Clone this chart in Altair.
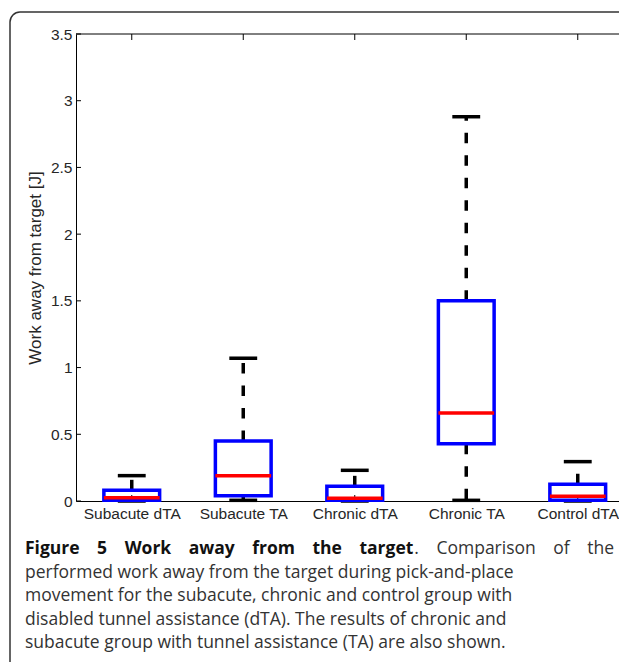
import altair as alt
import pandas as pd

# ---- data ----
groups = ["Subacute dTA", "Subacute TA", "Chronic dTA", "Chronic TA", "Control dTA"]
positions = [1, 2, 3, 4, 5]
whisker_low = [0.0, 0.005, 0.0, 0.005, 0.0]
q1 = [0.005, 0.04, 0.005, 0.43, 0.005]
median = [0.025, 0.19, 0.02, 0.66, 0.035]
q3 = [0.08, 0.45, 0.11, 1.50, 0.125]
whisker_high = [0.19, 1.07, 0.23, 2.88, 0.295]
y_ticks = [0, 0.5, 1, 1.5, 2, 2.5, 3, 3.5]

y_title = "Work away from target [J]"
caption_bold = "Figure\u20035\u2003Work\u2003away\u2003from\u2003the\u2003target"
caption_first_rest = ".\u2003Comparison\u2003of\u2003the"
caption_lines = [
    "performed work away from the target during pick-and-place",
    "movement for the subacute, chronic and control group with",
    "disabled tunnel assistance (dTA). The results of chronic and",
    "subacute group with tunnel assistance (TA) are also shown.",
]

# ---- layout / style ----
BOX_HALF = 0.25
CAP_HALF = 0.125
W, H = 543, 467
X_DOMAIN = [0.5, 0.5 + W / 111.5]
AX_FONT = "Liberation Sans"
AX_SIZE = 15.5
CAP_FONT = "Open Sans"
CAP_SIZE = 17.5

df = pd.DataFrame({
    "group": groups, "pos": positions, "lo": whisker_low, "q1": q1,
    "med": median, "q3": q3, "hi": whisker_high,
})
df["xl"] = df["pos"] - BOX_HALF
df["xr"] = df["pos"] + BOX_HALF
df["cl"] = df["pos"] - CAP_HALF
df["cr"] = df["pos"] + CAP_HALF

xscale = alt.Scale(domain=X_DOMAIN, nice=False, zero=False)
yscale = alt.Scale(domain=[0, 3.5], nice=False, zero=False)

label_expr = "[" + ",".join("'" + g + "'" for g in groups) + "][datum.value - 1]"

x_axis = alt.Axis(values=positions, labelExpr=label_expr, tickSize=0,
                  labelPadding=5, labelFont=AX_FONT, labelFontSize=AX_SIZE,
                  labelColor="#262626", labelFlush=False, labelOverlap=False,
                  domainColor="black", domainWidth=1, grid=False, title=None)
y_axis = alt.Axis(values=y_ticks, format="~g", tickSize=0, labelPadding=4,
                  labelFont=AX_FONT, labelFontSize=AX_SIZE, labelColor="#262626",
                  labelFlush=False, domainColor="black", domainWidth=1,
                  grid=False, title=y_title, titleFont=AX_FONT,
                  titleFontSize=17, titleFontWeight="normal",
                  titleColor="#262626", titlePadding=6)


def X(f):
    return alt.X(f, scale=xscale, axis=x_axis)


def Y(f):
    return alt.Y(f, scale=yscale, axis=y_axis)


base = alt.Chart(df)
one = alt.Chart(pd.DataFrame({"a": [0]}))

border = one.mark_rect(fill="transparent", stroke="#333333", strokeWidth=1.5,
                       cornerRadius=10).encode(
    x=alt.value(-66), x2=alt.value(W + 60), y=alt.value(-22), y2=alt.value(H + 400))

top_line = one.mark_rule(color="black", strokeWidth=1).encode(
    x=alt.value(0), x2=alt.value(W), y=alt.value(0))

top_ticks = base.mark_rule(color="black", strokeWidth=1).encode(
    x=X("pos:Q"), y=alt.value(0), y2=alt.value(6))

bottom_ticks = base.mark_rule(color="black", strokeWidth=1).encode(
    x=X("pos:Q"), y=alt.value(H), y2=alt.value(H - 6))

left_ticks = alt.Chart(pd.DataFrame({"t": y_ticks})).mark_rule(
    color="black", strokeWidth=1).encode(
    y=Y("t:Q"), x=alt.value(0), x2=alt.value(5))

whisk_up = base.mark_rule(color="black", strokeWidth=3.5, strokeDash=[10.5, 12]).encode(
    x=X("pos:Q"), y=Y("q3:Q"), y2="hi:Q")

whisk_dn = base.mark_rule(color="black", strokeWidth=3.5, strokeDash=[10.5, 12]).encode(
    x=X("pos:Q"), y=Y("q1:Q"), y2="lo:Q")

cap_hi = base.mark_rule(color="black", strokeWidth=3.5).encode(
    x=X("cl:Q"), x2="cr:Q", y=Y("hi:Q"))

cap_lo = base.mark_rule(color="black", strokeWidth=3.5).encode(
    x=X("cl:Q"), x2="cr:Q", y=Y("lo:Q"))

boxes = base.mark_rect(fill="transparent", stroke="#0000ff", strokeWidth=3.5).encode(
    x=X("xl:Q"), x2="xr:Q", y=Y("q1:Q"), y2="q3:Q")

medians = base.mark_rule(color="#ff0000", strokeWidth=3.5).encode(
    x=X("xl:Q"), x2="xr:Q", y=Y("med:Q"))

BASE1 = 520
LINE_H = 23.5
cap_b = one.mark_text(text=caption_bold, font=CAP_FONT, fontSize=CAP_SIZE,
                      fontWeight="bold", align="left", baseline="alphabetic",
                      color="#111111").encode(
    x=alt.value(-51), y=alt.value(BASE1))
cap_r = one.mark_text(text=caption_first_rest, font=CAP_FONT, fontSize=CAP_SIZE,
                      align="right", baseline="alphabetic", color="#333333").encode(
    x=alt.value(538), y=alt.value(BASE1))

cap_layers = []
for i, line in enumerate(caption_lines):
    cap_layers.append(one.mark_text(text=line, font=CAP_FONT, fontSize=CAP_SIZE,
                                    align="left", baseline="alphabetic",
                                    color="#333333").encode(
        x=alt.value(-51), y=alt.value(BASE1 + LINE_H * (i + 1))))

chart = alt.layer(
    border, top_line, top_ticks, bottom_ticks, left_ticks,
    whisk_up, whisk_dn, cap_hi, cap_lo, boxes, medians,
    cap_b, cap_r, *cap_layers
).properties(
    width=W, height=H,
    autosize=alt.AutoSizeParams(type="none"),
    padding={"left": 68, "top": 26, "right": 0, "bottom": 161},
    background="white",
).configure_view(stroke=None)

chart.save("out.html", embed_options={"renderer": "svg", "actions": False})
